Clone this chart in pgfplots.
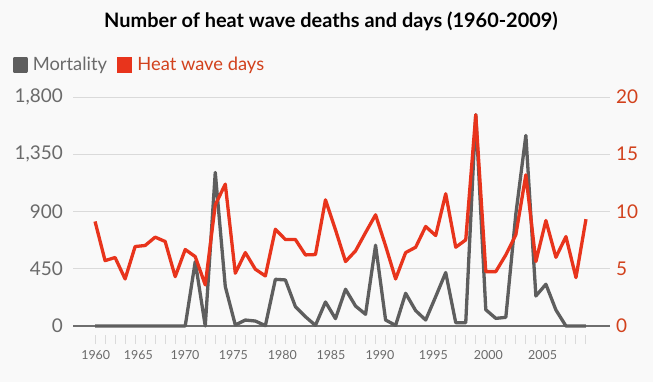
\documentclass[border=0pt]{standalone}
\usepackage{pgfplots}
\pgfplotsset{compat=1.18}
\usepackage{fontspec}
\setmainfont{Lato}
\definecolor{mgray}{HTML}{5E5E5E}
\definecolor{hred}{HTML}{E8341C}
\definecolor{rlab}{HTML}{D2411C}
\definecolor{lgray}{HTML}{6A6A6A}
\definecolor{bgc}{HTML}{F9F9F9}
\definecolor{gridc}{HTML}{DADADA}
\begin{document}
\begin{tikzpicture}[x=1bp,y=1bp]
\fill[bgc] (0,0) rectangle (653,382);
\node[font=\bfseries\fontsize{20}{24}\selectfont, text=black] at (331,361) {Number of heat wave deaths and days (1960-2009)};
\begin{axis}[
  at={(73bp,56bp)}, anchor=south west, scale only axis,
  width=537bp, height=229bp,
  xmin=1957.8, xmax=2011.4, ymin=0, ymax=1800,
  clip=false,
  axis line style={draw=none},
  tick pos=left,
  major tick length=0pt,
  ymajorgrids, grid style={gridc, line width=0.8bp},
  ytick={0,450,900,1350,1800},
  yticklabels={0,450,900,{1,350},{1,800}},
  yticklabel style={font=\fontsize{19}{20}\selectfont, text=lgray, inner sep=0pt, xshift=-10bp},
  xtick={1960.07,1964.32,1968.98,1973.80,1978.69,1983.55,1988.44,1993.76,1999.25,2004.68},
  xticklabels={1960,1965,1970,1975,1980,1985,1990,1995,2000,2005},
  xticklabel style={font=\fontsize{12.5}{14}\selectfont, text=lgray, inner sep=0pt, yshift=-24bp},
  minor xtick={1960,1961,...,2009},
  minor tick length=9bp, tick align=outside,
  minor tick style={draw=gridc, line width=1bp, yshift=-9bp},
  /pgf/number format/assume math mode=true,
  legend columns=2,
  legend style={at={(-0.113,1.14)}, anchor=west, draw=none, fill=none, inner sep=0pt,
    font=\fontsize{18.4}{20}\selectfont, column sep=0pt,
    nodes={inner sep=0pt}},
  legend image code/.code={\fill[#1] (0bp,-6bp) rectangle (12bp,6bp);},
  /tikz/every even column/.append style={column sep=10bp},
]
\draw[mgray!90, line width=1.3bp] (axis cs:1957.8,0) -- (axis cs:2011.4,0);
\addplot[mgray, line width=3.3bp, line join=round, no markers] coordinates {
(1960,0)(1961,0)(1962,0)(1963,0)(1964,0)(1965,0)(1966,0)(1967,0)(1968,0)(1969,0)
(1970,506)(1971,0)(1972,1207)(1973,310)(1974,8)(1975,47)(1976,39)(1977,3)(1978,367)(1979,362)
(1980,152)(1981,73)(1982,5)(1983,189)(1984,58)(1985,289)(1986,157)(1987,92)(1988,635)(1989,47)
(1990,5)(1991,257)(1992,121)(1993,47)(1994,231)(1995,420)(1996,26)(1997,26)(1998,1661)(1999,128)
(2000,60)(2001,68)(2002,880)(2003,1498)(2004,236)(2005,328)(2006,126)(2007,0)(2008,0)(2009,0)
};
\addlegendentry{\hspace*{5bp}\textcolor{lgray}{Mortality}}
\addlegendimage{hred, line width=3.3bp}
\addlegendentry{\hspace*{5bp}\textcolor{rlab}{Heat wave days}}
\end{axis}
\begin{axis}[
  at={(73bp,56bp)}, anchor=south west, scale only axis,
  width=537bp, height=229bp,
  xmin=1957.8, xmax=2011.4, ymin=0, ymax=20,
  clip=false,
  axis line style={draw=none},
  xtick=\empty,
  tick pos=right,
  major tick length=0pt,
  ytick={0,5,10,15,20},
  yticklabel pos=right,
  yticklabel style={font=\fontsize{19}{20}\selectfont, text=rlab, inner sep=0pt, xshift=6bp},
  /pgf/number format/assume math mode=true,
]
\addplot[hred, line width=3.3bp, line join=round, no markers] coordinates {
(1960,9.13)(1961,5.71)(1962,5.98)(1963,4.11)(1964,6.94)(1965,7.03)(1966,7.76)(1967,7.38)(1968,4.31)(1969,6.68)
(1970,6.06)(1971,3.59)(1972,10.58)(1973,12.39)(1974,4.61)(1975,6.41)(1976,4.96)(1977,4.37)(1978,8.45)(1979,7.55)
(1980,7.55)(1981,6.21)(1982,6.24)(1983,11.02)(1984,8.4)(1985,5.63)(1986,6.56)(1987,8.16)(1988,9.71)(1989,7.0)
(1990,4.11)(1991,6.41)(1992,6.88)(1993,8.69)(1994,7.90)(1995,11.55)(1996,6.88)(1997,7.52)(1998,18.45)(1999,4.75)
(2000,4.75)(2001,6.21)(2002,7.96)(2003,13.2)(2004,5.63)(2005,9.21)(2006,6.0)(2007,7.81)(2008,4.23)(2009,9.33)
};
\end{axis}
\end{tikzpicture}
\end{document}
